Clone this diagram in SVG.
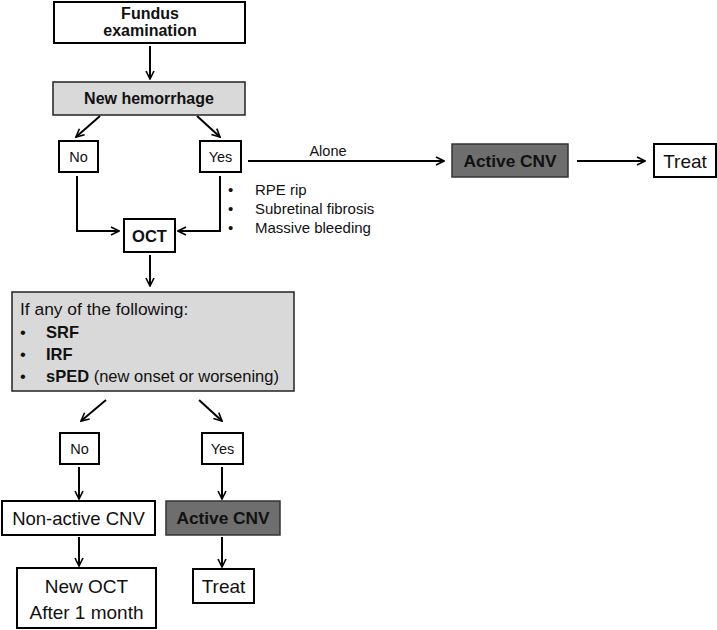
<svg xmlns="http://www.w3.org/2000/svg" width="717" height="630" viewBox="0 0 717 630">
<style>
.box{fill:#fff;stroke:#000;stroke-width:2}
.lg{fill:#d9d9d9;stroke:#222;stroke-width:1.5}
.dg{fill:#6e6e6e;stroke:#333;stroke-width:1.5}
text{font-family:"Liberation Sans",Arial,sans-serif;fill:#111}
.c{text-anchor:middle}
.b{font-weight:bold}
.ln{fill:none;stroke:#000;stroke-width:2}
</style>
<defs>
<marker id="ah" viewBox="0 0 10 10" refX="9" refY="5" markerWidth="5" markerHeight="5" orient="auto" markerUnits="strokeWidth">
<path d="M1,1 L9,5 L1,9" fill="none" stroke="#000" stroke-width="1.6"/>
</marker>
</defs>
<rect width="717" height="630" fill="#fff"/>
<g id="connectors">
<line class="ln" x1="150" y1="46" x2="150" y2="79" marker-end="url(#ah)"/>
<line class="ln" x1="100" y1="116" x2="76" y2="137" marker-end="url(#ah)"/>
<line class="ln" x1="197" y1="116" x2="220" y2="137" marker-end="url(#ah)"/>
<polyline class="ln" points="77,176 77,231 119,231" marker-end="url(#ah)"/>
<polyline class="ln" points="220,176 220,231 178,231" marker-end="url(#ah)"/>
<line class="ln" x1="248" y1="161" x2="444" y2="161" marker-end="url(#ah)"/>
<line class="ln" x1="577" y1="161" x2="645" y2="161" marker-end="url(#ah)"/>
<line class="ln" x1="150" y1="255" x2="150" y2="286" marker-end="url(#ah)"/>
<line class="ln" x1="106" y1="400" x2="81" y2="421" marker-end="url(#ah)"/>
<line class="ln" x1="199" y1="400" x2="222" y2="421" marker-end="url(#ah)"/>
<line class="ln" x1="79" y1="467" x2="79" y2="499" marker-end="url(#ah)"/>
<line class="ln" x1="222" y1="467" x2="222" y2="499" marker-end="url(#ah)"/>
<line class="ln" x1="79" y1="537" x2="79" y2="566" marker-end="url(#ah)"/>
<line class="ln" x1="222" y1="537" x2="222" y2="567" marker-end="url(#ah)"/>
<text x="328" y="156" class="c" font-size="14.5">Alone</text>
<g font-size="15">
<text x="228" y="195">•</text><text x="255" y="195">RPE rip</text>
<text x="228" y="214">•</text><text x="255" y="214">Subretinal fibrosis</text>
<text x="228" y="233">•</text><text x="255" y="233">Massive bleeding</text>
</g>
</g>
<g id="fundus">
<rect class="box" x="54" y="2" width="191" height="41"/>
<text x="150" y="19" class="c b" font-size="16">Fundus</text>
<text x="150" y="36" class="c b" font-size="16">examination</text>
</g>
<g id="hemorrhage">
<rect class="lg" x="53" y="82" width="192" height="33"/>
<text x="149" y="104" class="c b" font-size="16">New hemorrhage</text>
</g>
<g id="no1">
<rect class="box" x="59" y="141" width="39" height="31"/>
<text x="78.5" y="162" class="c" font-size="14.5">No</text>
</g>
<g id="yes1">
<rect class="box" x="200" y="141" width="41" height="31"/>
<text x="220.5" y="162" class="c" font-size="14.5">Yes</text>
</g>
<g id="oct">
<rect class="box" x="124" y="219" width="51" height="33"/>
<text x="149.5" y="242" class="c b" font-size="16.5">OCT</text>
</g>
<g id="active1">
<rect class="dg" x="452" y="144" width="116" height="33"/>
<text x="510" y="167" class="c b" font-size="17.3" fill="#1a1a1a">Active CNV</text>
</g>
<g id="treat1">
<rect class="box" x="654" y="144" width="62" height="33"/>
<text x="685" y="168" class="c" font-size="19">Treat</text>
</g>
<g id="criteria">
<rect class="lg" x="12" y="292" width="282" height="99"/>
<text x="20" y="315" font-size="17.4">If any of the following:</text>
<text x="20" y="338" font-size="16.5">•</text><text x="46" y="338" font-size="16.5" class="b">SRF</text>
<text x="20" y="360" font-size="16.5">•</text><text x="46" y="360" font-size="16.5" class="b">IRF</text>
<text x="20" y="382" font-size="16.5">•</text><text x="46" y="382" font-size="16.5"><tspan class="b">sPED</tspan> (new onset or worsening)</text>
</g>
<g id="no2">
<rect class="box" x="60" y="433" width="39" height="31"/>
<text x="79.5" y="454" class="c" font-size="14.5">No</text>
</g>
<g id="yes2">
<rect class="box" x="202" y="433" width="41" height="31"/>
<text x="222.5" y="454" class="c" font-size="14.5">Yes</text>
</g>
<g id="nonactive">
<rect class="box" x="2" y="501" width="153" height="34"/>
<text x="78.5" y="525" class="c" font-size="18.5">Non-active CNV</text>
</g>
<g id="active2">
<rect class="dg" x="166" y="501" width="114" height="34"/>
<text x="223" y="524" class="c b" font-size="17.3" fill="#1a1a1a">Active CNV</text>
</g>
<g id="newoct">
<rect class="box" x="17" y="568" width="139" height="60"/>
<text x="86.5" y="593" class="c" font-size="19">New OCT</text>
<text x="86.5" y="619" class="c" font-size="19">After 1 month</text>
</g>
<g id="treat2">
<rect class="box" x="193" y="569" width="61" height="34"/>
<text x="223.5" y="593" class="c" font-size="19">Treat</text>
</g>
</svg>
